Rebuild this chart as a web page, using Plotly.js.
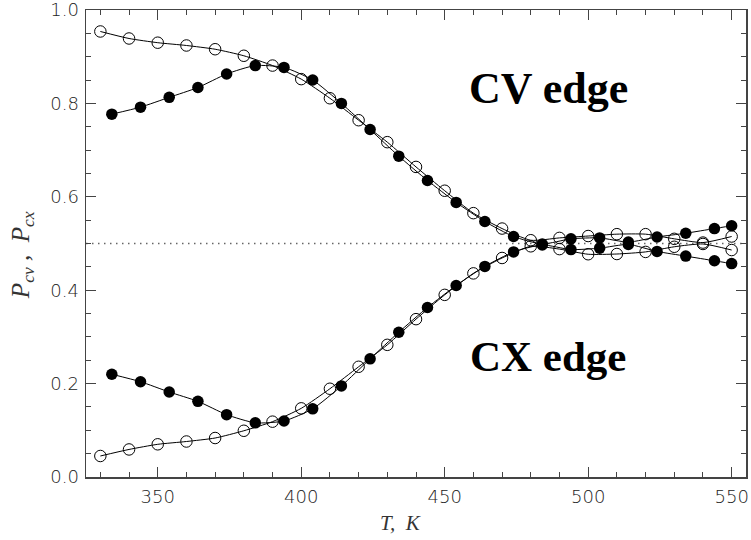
<!DOCTYPE html>
<html>
<head>
<meta charset="utf-8">
<script src="https://cdn.plot.ly/plotly-3.0.1.min.js"></script>
<style>html,body{margin:0;padding:0;background:#fff;}#chart{width:751px;height:540px;}</style>
</head>
<body>
<div id="chart"></div>
<script>
// Temperatures (K)
const tOpen   = [330,340,350,360,370,380,390,400,410,420,430,440,450,460,470,480,490,500,510,520,530,540,550];
const tFilled = [334,344,354,364,374,384,394,404,414,424,434,444,454,464,474,484,494,504,514,524,534,544,550];

// CV edge probabilities
const cvOpen   = [0.954,0.939,0.930,0.924,0.916,0.902,0.881,0.852,0.811,0.764,0.717,0.664,0.613,0.565,0.532,0.507,0.512,0.516,0.520,0.520,0.510,0.502,0.515];
const cvFilled = [0.777,0.792,0.813,0.834,0.863,0.881,0.877,0.850,0.800,0.744,0.687,0.635,0.588,0.547,0.515,0.499,0.510,0.512,0.503,0.514,0.522,0.532,0.538];

// CX edge probabilities
const cxOpen   = [0.045,0.059,0.070,0.076,0.0835,0.099,0.1185,0.147,0.189,0.236,0.283,0.338,0.390,0.436,0.469,0.494,0.488,0.477,0.4775,0.482,0.493,0.499,0.486];
const cxFilled = [0.220,0.204,0.182,0.162,0.1335,0.116,0.120,0.146,0.195,0.253,0.310,0.363,0.410,0.451,0.482,0.497,0.487,0.490,0.498,0.483,0.473,0.463,0.457];

const refLevel = 0.5;
const xRange = [325, 555];
const xTicks = [350, 400, 450, 500, 550];
const yTicks = [0, 0.2, 0.4, 0.6, 0.8, 1.0];
const yTickText = ['0.0', '0.2', '0.4', '0.6', '0.8', '1.0'];
const labels = ["CV edge", "CX edge"];

function curveTrace(x, y, filled) {
  return {x: x, y: y, type: 'scatter', mode: 'lines+markers',
    line: {color: '#000', width: 1, shape: 'spline', smoothing: 0.6},
    marker: filled
      ? {symbol: 'circle', size: 11.5, color: '#000'}
      : {symbol: 'circle-open', size: 11.5, color: '#000', line: {width: 1, color: '#000'}},
    showlegend: false, hoverinfo: 'x+y'};
}

const traces = [
  {x: xRange, y: [refLevel, refLevel], type: 'scatter', mode: 'lines',
   line: {color: '#666', width: 1.5, dash: '1.5px,4.5px'}, showlegend: false, hoverinfo: 'skip'},
  curveTrace(tOpen, cvOpen, false),
  curveTrace(tFilled, cvFilled, true),
  curveTrace(tOpen, cxOpen, false),
  curveTrace(tFilled, cxFilled, true)
];

const tickFont = {family: 'DejaVu Sans, Liberation Sans, sans-serif', size: 18, color: '#222', weight: 200};
const axisCommon = {
  showgrid: false, zeroline: false, showline: true, linecolor: '#444', linewidth: 1.5,
  mirror: 'ticks', ticks: 'inside', ticklen: 10, tickwidth: 1.2, tickcolor: '#444',
  tickfont: tickFont, ticklabeloverflow: 'allow'
};

const serif = 'Liberation Serif, Times New Roman, serif';

const layout = {
  width: 751, height: 540,
  margin: {l: 86, r: 5, t: 10, b: 63},
  paper_bgcolor: '#fff', plot_bgcolor: '#fff',
  xaxis: Object.assign({}, axisCommon, {
    range: xRange, tickmode: 'array', tickvals: xTicks, ticklabelstandoff: 3,
    minor: {dtick: 10, tick0: 330, ticks: 'inside', ticklen: 5, tickcolor: '#444', tickwidth: 1}
  }),
  yaxis: Object.assign({}, axisCommon, {
    range: [0, 1], tickmode: 'array', tickvals: yTicks, ticktext: yTickText, ticklabelstandoff: 2,
    minor: {dtick: 0.05, tick0: 0, ticks: 'inside', ticklen: 5, tickcolor: '#444', tickwidth: 1}
  }),
  annotations: [
    {x: 0.70, y: 0.831, xref: 'paper', yref: 'paper', xanchor: 'center', yanchor: 'middle',
     text: '<b>' + labels[0] + '</b>', showarrow: false,
     font: {family: serif, size: 44, color: '#000'}},
    {x: 0.70, y: 0.257, xref: 'paper', yref: 'paper', xanchor: 'center', yanchor: 'middle',
     text: '<b>' + labels[1] + '</b>', showarrow: false,
     font: {family: serif, size: 43, color: '#000'}},
    {x: 0.476, y: -0.098, xref: 'paper', yref: 'paper', xanchor: 'center', yanchor: 'middle',
     text: '<i>T,  K</i>', showarrow: false,
     font: {family: serif, size: 21, color: '#333'}},
    {x: -0.097, y: 0.475, xref: 'paper', yref: 'paper', xanchor: 'center', yanchor: 'middle',
     text: '<i>P<sub>cv</sub> ,  P<sub>cx</sub></i>', showarrow: false, textangle: -90,
     font: {family: serif, size: 25, color: '#333'}}
  ]
};

Plotly.newPlot('chart', traces, layout, {displayModeBar: false, staticPlot: true});
</script>
</body>
</html>
